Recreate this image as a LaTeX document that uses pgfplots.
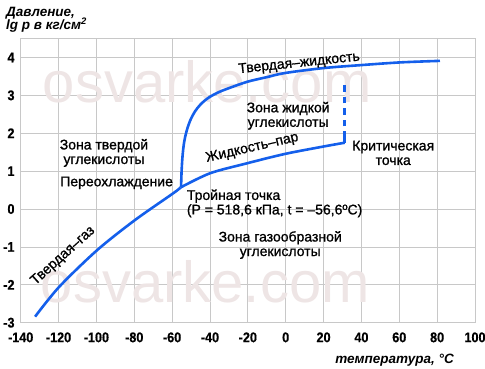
\documentclass[border=0pt]{standalone}
\usepackage{fontspec}
\setmainfont{Liberation Sans}
\newfontfamily\tickfont[FakeStretch=0.9,FakeBold=0.5]{Liberation Sans}
\newfontfamily\annfont[FakeBold=1.0]{Liberation Sans}
\usepackage{pgfplots}
\pgfplotsset{compat=1.18}
\definecolor{curve}{RGB}{20,95,235}
\definecolor{gridc}{RGB}{200,200,200}
\definecolor{wm}{RGB}{238,229,229}
\begin{document}
\begin{tikzpicture}[x=1pt,y=1pt]
\useasboundingbox (0,0) rectangle (485,368);
\begin{axis}[
  at={(20.7pt,45.3pt)}, anchor=south west,
  width=454.3pt, height=284.2pt, scale only axis,
  xmin=-140, xmax=100, ymin=-3, ymax=4.5,
  xtick={-140,-120,...,100}, ytick={-3,-2,...,4},
  grid=major, major grid style={gridc, line width=0.8pt},
  axis line style={gridc, line width=0.8pt},
  major tick length=0pt,
  /pgf/number format/assume math mode=true,
  tick label style={font=\tickfont\bfseries\fontsize{14}{14}\selectfont, inner sep=0pt},
  xticklabel style={anchor=north, yshift=-9.5pt},
  yticklabel style={anchor=east, xshift=-6pt},
  clip=false,
]
\node[anchor=base, font=\fontsize{58}{58}\selectfont, text=wm] at (axis cs:-41.5,2.80) {osvarke.com};
\node[anchor=base, font=\fontsize{58}{58}\selectfont, text=wm] at (axis cs:-42.5,-2.48) {osvarke.com};

% solid-gas
\addplot[curve, line width=2.6pt, smooth, no markers] coordinates {
(-132.4,-2.84) (-119.6,-2.05) (-99.5,-1.08) (-79.6,-0.29) (-59.3,0.42) (-55.5,0.57)};
% liquid-vapour
\addplot[curve, line width=2.6pt, smooth, no markers] coordinates {
(-55.5,0.57) (-39.9,0.945) (-20.2,1.21) (-0.3,1.455) (20,1.65) (31.2,1.75)};
\addplot[curve, line width=2.6pt, no markers] coordinates {(31.2,1.73) (31.2,1.88)};
% solid-liquid
\addplot[curve, line width=2.6pt, smooth, no markers] coordinates {
(-55.3,0.57) (-55.0,1.0) (-54.5,1.4) (-53.7,1.75) (-52.4,2.05) (-50.5,2.33) (-48.0,2.57) (-45.0,2.76) (-41.0,2.93) (-36.0,3.07) (-30.0,3.19) (-20.2,3.36) (-10,3.48) (-0.3,3.59) (20,3.72) (40.3,3.80) (60.6,3.87) (81.5,3.91)};
% critical isotherm
\addplot[curve, line width=2.6pt, dash pattern=on 6.5pt off 5pt, no markers] coordinates {(31.2,1.88) (31.2,3.36)};

\begin{scope}[every node/.style={font=\annfont\fontsize{14}{14.5}\selectfont, inner sep=0pt}]
\node[align=center] at (axis cs:-96.0,1.48) {Зона твердой\\углекислоты};
\node[anchor=west] at (axis cs:-119.2,0.69) {Переохлаждение};
\node[align=left, anchor=west] at (axis cs:-52.3,0.148) {Тройная точка\\(P = 518,6 кПа, t = –56,6ºC)};
\node[align=center] at (axis cs:-2.9,-0.95) {Зона газообразной\\углекислоты};
\node[align=center] at (axis cs:1.3,2.46) {Зона жидкой\\углекислоты};
\node[align=center] at (axis cs:56.8,1.48) {Критическая\\точка};
\node[rotate=6] at (axis cs:7.1,3.84) {Твердая–жидкость};
\node[rotate=13] at (axis cs:-17.7,1.61) {Жидкость–пар};
\node[rotate=42] at (axis cs:-117.6,-1.24) {Твердая–газ};
\end{scope}
\end{axis}
\node[anchor=base west, font=\bfseries\itshape\fontsize{13.5}{14}\selectfont, inner sep=0pt] at (6,351.3) {Давление,};
\node[anchor=base west, font=\bfseries\itshape\fontsize{13.5}{14}\selectfont, inner sep=0pt] at (6,338.7) {lg p в кг/см\textsuperscript{2}};
\node[anchor=base east, font=\bfseries\itshape\fontsize{13.5}{14}\selectfont, inner sep=0pt] at (454,4.7) {температура, °С};
\end{tikzpicture}
\end{document}
